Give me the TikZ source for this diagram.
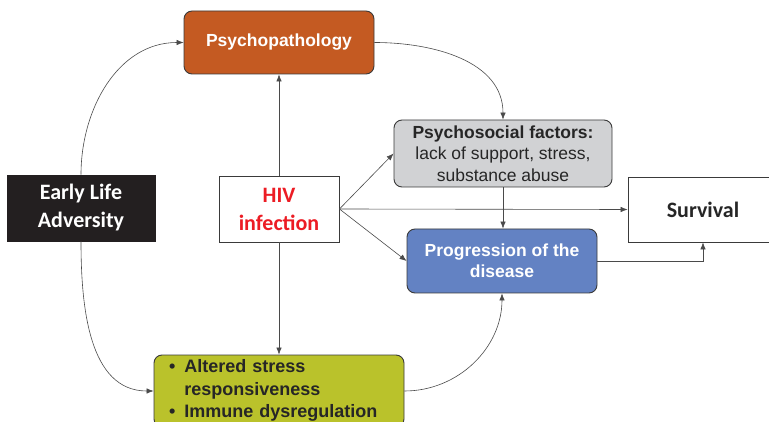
\documentclass[tikz,border=0pt]{standalone}
\usepackage{fontspec}
\setmainfont{Liberation Sans}
\newfontfamily\cali{Carlito}
\usetikzlibrary{arrows.meta}

\definecolor{elablack}{HTML}{231F20}
\definecolor{hivred}{HTML}{EC1C24}
\definecolor{psyorange}{HTML}{C45A22}
\definecolor{socgray}{HTML}{D1D2D4}
\definecolor{progblue}{HTML}{6382C3}
\definecolor{altgreen}{HTML}{BAC22B}
\definecolor{boxline}{HTML}{3A3A3A}
\definecolor{arrline}{HTML}{4A4A4A}

\begin{document}
\begin{tikzpicture}[x=1pt, y=1pt,
    box/.style={draw=boxline, line width=0.9pt, align=center, inner sep=0pt},
    rbox/.style={box, rounded corners=8pt},
    arr/.style={-{Latex[length=7pt,width=5.5pt]}, draw=arrline, line width=0.6pt},
    arial/.style={font=\fontsize{17.5}{21}\selectfont\bfseries},
    calib/.style={font=\cali\fontsize{22}{28}\selectfont\bfseries}]
    \clip (0,0) rectangle (769,-422);

    % Boxes
    \node[box, calib, fill=elablack, draw=elablack, text=white,
          minimum width=148pt, minimum height=66pt] (ela) at (81,-208) {Early Life\\Adversity};
    \node[box, calib, text=hivred, minimum width=120pt, minimum height=66pt] (hiv) at (279,-209) {HIV\\infection};
    \node[rbox, arial, fill=psyorange, text=white,
          minimum width=190pt, minimum height=63pt] (psy) at (279,-42.5) {Psychopathology};
    \node[rbox, fill=socgray, text=black!85, font=\fontsize{17.5}{21.5}\selectfont,
          minimum width=218pt, minimum height=67pt] (soc) at (503,-153.5)
          {\textbf{Psychosocial factors:}\\lack of support, stress,\\substance abuse};
    \node[box, calib, text=black!85, minimum width=150pt, minimum height=65pt] (surv) at (703,-209.5) {Survival};
    \node[rbox, arial, fill=progblue, text=white,
          minimum width=190pt, minimum height=64pt] (prog) at (502,-261) {Progression of the\\disease};
    \node[rbox, font=\fontsize{18}{22}\selectfont\bfseries, fill=altgreen, text=black!85,
          align=left, text width=220pt, minimum width=250pt, minimum height=72pt] (alt) at (279,-391)
          {\begin{tabular}{@{}l@{\hspace{9pt}}l@{}}
             \textbullet & Altered stress\\[0.5pt]
                         & responsiveness\\[0.5pt]
             \textbullet & Immune dysregulation
           \end{tabular}};

    % Arrows
    \draw[arr] (ela.north) to[out=90, in=180] (psy.west);
    \draw[arr] (ela.south) to[out=-90, in=180] (alt.west);
    \draw[arr] (hiv.north) -- (psy.south);
    \draw[arr] (hiv.south) -- (alt.north);
    \draw[arr] (hiv.east) -- (soc.west);
    \draw[arr] (hiv.east) -- (surv.west);
    \draw[arr] (hiv.east) -- (prog.west);
    \draw[arr] (psy.east) to[out=0, in=90] (soc.north);
    \draw[arr] (soc.south) -- (soc.south |- prog.north);
    \draw[arr] (prog.east) -| (surv.south);
    \draw[arr] (alt.east) to[out=0, in=-90] (prog.south);
\end{tikzpicture}
\end{document}
